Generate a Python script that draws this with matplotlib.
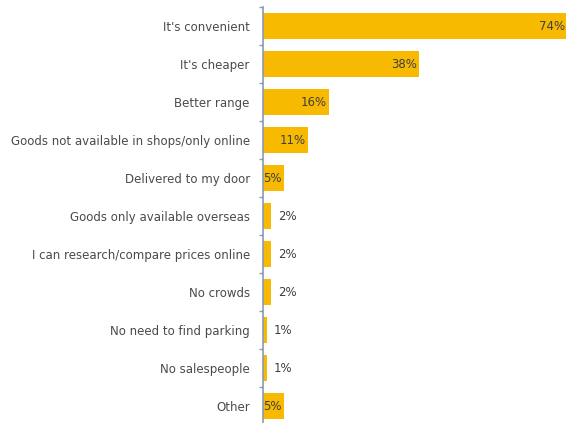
import matplotlib
matplotlib.use("Agg")
import matplotlib.pyplot as plt
import numpy as np

# Reasons for shopping online (% of respondents)
categories = [
    "It's convenient",
    "It's cheaper",
    "Better range",
    "Goods not available in shops/only online",
    "Delivered to my door",
    "Goods only available overseas",
    "I can research/compare prices online",
    "No crowds",
    "No need to find parking",
    "No salespeople",
    "Other",
]
values = [74, 38, 16, 11, 5, 2, 2, 2, 1, 1, 5]

W, H = 566, 423
fig = plt.figure(figsize=(W / 100, H / 100), dpi=100)
ax = fig.add_axes([263 / W, -2 / H, 304 / W, 418 / H])

bar_color = "#F7BA00"
text_color = "#4a4a4a"
axis_color = "#8A9AB5"
font = "DejaVu Sans"

y = np.arange(len(categories))
ax.barh(y, values, height=0.71, color=bar_color, edgecolor="none", zorder=2)

ax.set_xlim(0, 74)
ax.set_ylim(len(categories) - 0.5, -0.5)

# value labels: inside the bar end when there is room, otherwise just past it
for yi, v in zip(y, values):
    if v >= 5:
        ax.annotate(f"{v}%", xy=(v, yi), xytext=(-1.5, 0), textcoords="offset points",
                    ha="right", va="center", fontsize=8.5, color="#3f3f3f",
                    family=font, zorder=3)
    else:
        ax.annotate(f"{v}%", xy=(v, yi), xytext=(5, 0), textcoords="offset points",
                    ha="left", va="center", fontsize=8.5, color="#3f3f3f",
                    family=font, zorder=3)

ax.set_yticks(y)
ax.set_yticklabels(categories, fontsize=8.5, color=text_color, family=font)
ax.tick_params(axis="y", which="major", length=0, pad=9.5)
ax.set_yticks(np.arange(-0.5, len(categories) + 0.5, 1), minor=True)
ax.tick_params(axis="y", which="minor", length=3, width=1, color=axis_color, direction="out")

ax.set_xticks([])
for side in ("top", "right", "bottom"):
    ax.spines[side].set_visible(False)
ax.spines["left"].set_color(axis_color)
ax.spines["left"].set_linewidth(1.2)
ax.set_facecolor("none")

fig.savefig("out.png", dpi=100)
